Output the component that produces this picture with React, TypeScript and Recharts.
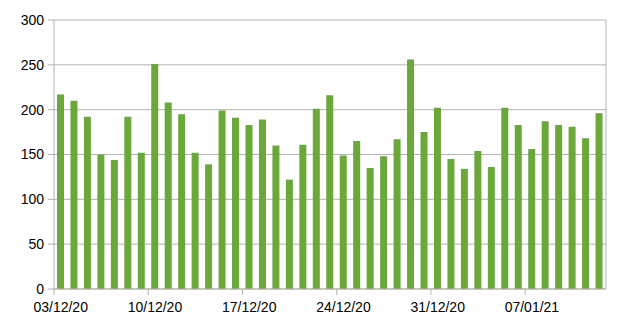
import React from 'react';
import { BarChart, Bar, XAxis, YAxis, CartesianGrid, ReferenceLine } from 'recharts';

const days = [
  '03/12/20', '04/12/20', '05/12/20', '06/12/20', '07/12/20', '08/12/20', '09/12/20',
  '10/12/20', '11/12/20', '12/12/20', '13/12/20', '14/12/20', '15/12/20', '16/12/20',
  '17/12/20', '18/12/20', '19/12/20', '20/12/20', '21/12/20', '22/12/20', '23/12/20',
  '24/12/20', '25/12/20', '26/12/20', '27/12/20', '28/12/20', '29/12/20', '30/12/20',
  '31/12/20', '01/01/21', '02/01/21', '03/01/21', '04/01/21', '05/01/21', '06/01/21',
  '07/01/21', '08/01/21', '09/01/21', '10/01/21', '11/01/21', '12/01/21',
];

const counts = [
  217, 210, 192, 150, 144, 192, 152, 251, 208, 195, 152, 139, 199, 191,
  183, 189, 160, 122, 161, 201, 216, 149, 165, 135, 148, 167, 256, 175,
  202, 145, 134, 154, 136, 202, 183, 156, 187, 183, 181, 168, 196,
];

const dateTicks = [0, 7, 14, 21, 28, 35];
const valueTicks = [0, 50, 100, 150, 200, 250, 300];

// bars sit in the middle of each day slot, tick marks on the slot boundary
const data = days.map((d, i) => ({ day: d, pos: i + 0.5, count: counts[i] }));

const grey = '#b3b3b3';
const font = { fill: '#000', fontSize: 14, fontFamily: '"Liberation Sans", Arial, sans-serif' };

export default function App() {
  return (
    <div style={{ position: 'absolute', left: 0, top: 0, width: 629, height: 335, background: '#fff' }}>
      <BarChart width={629} height={335} data={data} margin={{ top: 20, right: 23, bottom: 0, left: 0 }}>
        <CartesianGrid vertical={false} stroke={grey} />
        <XAxis
          type="number"
          dataKey="pos"
          domain={[0, days.length]}
          ticks={dateTicks}
          tickFormatter={(v: number) => days[v]}
          interval={0}
          height={46}
          stroke={grey}
          tickSize={6}
          tickMargin={7}
          tick={{ ...font, dx: 6.7 }}
        />
        <YAxis
          domain={[0, 300]}
          ticks={valueTicks}
          width={54}
          stroke={grey}
          tickSize={6}
          tickMargin={4}
          tick={font}
        />
        <ReferenceLine x={days.length} stroke={grey} />
        <Bar dataKey="count" fill="#6aa839" barSize={7} isAnimationActive={false} />
      </BarChart>
    </div>
  );
}
